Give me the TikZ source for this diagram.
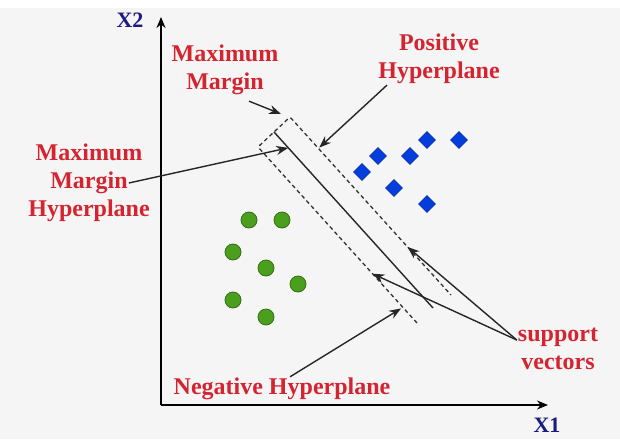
\documentclass[tikz,border=0pt]{standalone}
\usepackage{fontspec}
\setmainfont{Liberation Serif}
\usepackage{tikz}
\usepackage{xcolor}
\usetikzlibrary{
    arrows.meta,
    positioning,
    calc,
    shapes.geometric
}
\definecolor{lblRed}{RGB}{212,36,48}
\definecolor{axNavy}{RGB}{28,28,128}
\definecolor{ptGreen}{RGB}{76,158,30}
\definecolor{ptBlue}{RGB}{6,62,222}
\definecolor{bgGray}{RGB}{245,245,245}
\tikzset{
  lbl/.style    = {text=lblRed, align=center, inner sep=1pt,
                   font=\bfseries\fontsize{24}{28}\selectfont},
  axlbl/.style  = {text=axNavy, inner sep=1pt,
                   font=\bfseries\fontsize{22}{24}\selectfont},
  axis/.style   = {-{Stealth[length=11pt,width=9pt]}, line width=1.5pt, black},
  arr/.style    = {-{Stealth[length=12pt,width=9pt]}, line width=1.4pt, black!85}
}

\begin{document}
\begin{tikzpicture}[
  x=1pt, y=-1pt,
  grn/.style={
    circle, draw=ptGreen!70!black, fill=ptGreen,
    line width=0.8pt, minimum size=16pt, inner sep=0pt
  },
  blu/.style={
    diamond, draw=ptBlue!80!black, fill=ptBlue,
    line width=0.6pt, minimum size=17pt, inner sep=0pt
  },
  dsh/.style={
    line width=1.3pt, black!80,
    dash pattern=on 4pt off 3pt, rounded corners=2pt
  }
]

%% --- background ---
\fill[white] (0,0) rectangle (620,439);
\fill[bgGray] (0,8) rectangle (620,439);
\useasboundingbox (0,0) rectangle (620,439);

%% --- axes ---
\coordinate (O) at (161,405);
\coordinate (xEnd) at (548,405);
\coordinate (yEnd) at (161,17);
\draw[axis] (O) -- (xEnd);
\draw[axis] (O) -- (yEnd);
\node[axlbl] (X1) at (547,425) {X1};
\node[axlbl] (X2) at (130,20) {X2};

%% --- hyperplanes ---
\coordinate (negTop) at (258,147);
\coordinate (negEnd) at (417,323);
\coordinate (posTop) at (290,117);
\coordinate (posEnd) at (451,295);
\coordinate (midTop) at (274,132);
\coordinate (midEnd) at (433,308);

\draw[dsh] (negEnd) -- (negTop) -- (posTop) -- (posEnd);
\draw[line width=1.4pt, black!85] (midTop) -- (midEnd);

%% --- class points ---
\node[grn] (g1) at (249,220) {};
\node[grn] (g2) at (282,220) {};
\node[grn] (g3) at (233,252) {};
\node[grn] (g4) at (266,268) {};
\node[grn] (g5) at (298,284) {};
\node[grn] (g6) at (233,300) {};
\node[grn] (g7) at (266,317) {};

\node[blu] (b1) at (362,172) {};
\node[blu] (b2) at (378,156) {};
\node[blu] (b3) at (410,156) {};
\node[blu] (b4) at (427,140) {};
\node[blu] (b5) at (459,140) {};
\node[blu] (b6) at (394,188) {};
\node[blu] (b7) at (427,204) {};

%% --- labels ---
\node[lbl] (mm)  at (225,70)  {Maximum\\Margin};
\node[lbl] (pos) at (439,59)  {Positive\\Hyperplane};
\node[lbl] (mmh) at (89,183)  {Maximum\\Margin\\Hyperplane};
\node[lbl] (neg) at (282,389) {Negative Hyperplane};
\node[lbl] (sv)  at (558,349) {support\\vectors};

%% --- pointers ---
\coordinate (mmTip)  at (281,114);
\coordinate (posTip) at ($(posTop)!0.2!(posEnd)+(-3,-5)$);
\coordinate (midTip) at ($(midTop)!0.09!(midEnd)$);
\coordinate (negTip) at ($(negTop)!0.9!(negEnd)+(0,3)$);
\coordinate (svUp)   at ($(posTop)!0.73!(posEnd)$);
\coordinate (svLow)  at ($(negTop)!0.72!(negEnd)$);

\draw[arr] ([xshift=24pt,yshift=-5pt]mm.south) -- (mmTip);
\draw[arr] ([xshift=-52pt]pos.south) -- (posTip);
\draw[arr] ([xshift=-22pt]mmh.east) -- (midTip);
\draw[arr] ([xshift=8pt]neg.north) -- (negTip);
\draw[arr] ([yshift=9pt]sv.west) -- (svUp);
\draw[arr] ([yshift=9pt]sv.west) -- (svLow);

\end{tikzpicture}
\end{document}
